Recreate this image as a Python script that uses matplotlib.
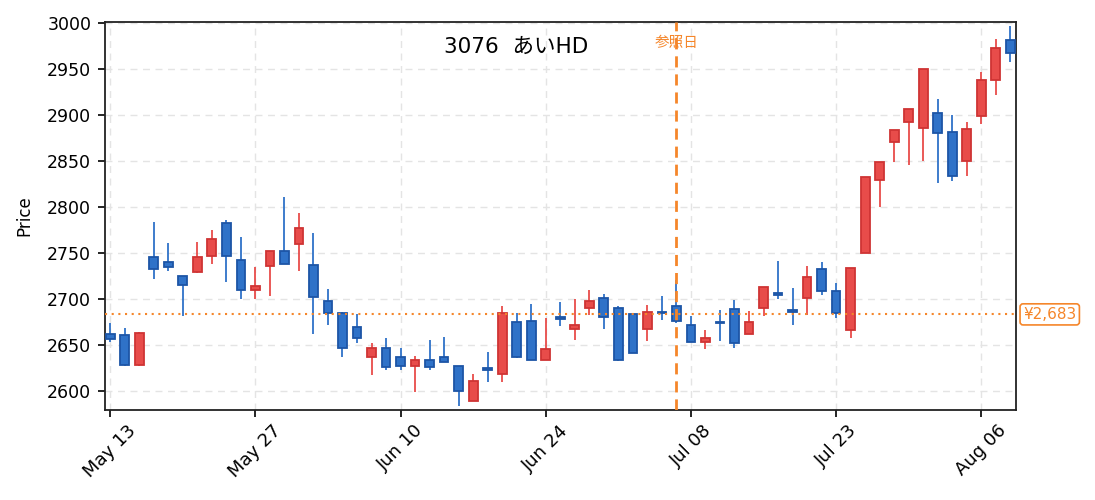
import matplotlib
matplotlib.use("Agg")
import matplotlib.pyplot as plt
from matplotlib.patches import Rectangle

plt.rcParams['font.family'] = ['DejaVu Sans', 'Noto Sans CJK JP']

# daily prices, 2024-05-13 .. 2024-08-08 (trading days)
opens = [2662, 2661, 2628, 2745, 2740, 2725, 2729, 2747, 2782, 2742,
         2710, 2736, 2752, 2760, 2737, 2698, 2685, 2669, 2637, 2646,
         2637, 2627, 2633, 2637, 2627, 2589, 2625, 2618, 2675, 2676,
         2633, 2680, 2667, 2690, 2701, 2690, 2683, 2667, 2686, 2692,
         2671, 2653, 2675, 2689, 2662, 2690, 2706, 2688, 2701, 2732,
         2708, 2666, 2750, 2829, 2870, 2892, 2886, 2902, 2881, 2850,
         2899, 2938, 2981]
highs = [2674, 2668, 2664, 2783, 2761, 2725, 2762, 2775, 2786, 2767,
         2734, 2752, 2811, 2793, 2772, 2711, 2686, 2683, 2652, 2657,
         2646, 2638, 2655, 2658, 2627, 2618, 2642, 2692, 2684, 2694,
         2679, 2696, 2700, 2710, 2705, 2692, 2685, 2693, 2703, 2720,
         2681, 2666, 2688, 2699, 2687, 2713, 2741, 2712, 2736, 2740,
         2717, 2733, 2832, 2849, 2883, 2906, 2950, 2917, 2900, 2892,
         2947, 2983, 2997]
lows = [2653, 2627, 2627, 2722, 2730, 2681, 2728, 2738, 2718, 2700,
        2700, 2703, 2738, 2730, 2662, 2671, 2637, 2652, 2617, 2622,
        2623, 2599, 2623, 2631, 2583, 2589, 2609, 2609, 2636, 2633,
        2633, 2670, 2655, 2682, 2667, 2632, 2641, 2654, 2677, 2674,
        2653, 2645, 2654, 2646, 2662, 2681, 2700, 2671, 2682, 2704,
        2679, 2657, 2750, 2800, 2849, 2846, 2850, 2826, 2828, 2834,
        2890, 2922, 2958]
closes = [2656, 2628, 2663, 2732, 2735, 2715, 2745, 2765, 2746, 2710,
          2714, 2752, 2738, 2777, 2702, 2685, 2646, 2657, 2646, 2626,
          2627, 2633, 2626, 2631, 2600, 2610, 2622, 2684, 2637, 2633,
          2645, 2678, 2671, 2698, 2680, 2633, 2641, 2686, 2684, 2676,
          2653, 2657, 2674, 2652, 2675, 2713, 2704, 2686, 2724, 2708,
          2685, 2733, 2832, 2849, 2883, 2906, 2950, 2880, 2833, 2885,
          2938, 2973, 2967]
tick_labels = ["May 13", "May 27", "Jun 10", "Jun 24", "Jul 08", "Jul 23", "Aug 06"]
ref_index = 39
ref_price = 2683
title = "3076  あいHD"

UP_FILL, UP_EDGE = "#e84c4a", "#cf3434"
DN_FILL, DN_EDGE = "#2f72c8", "#1d55a6"
ORANGE = "#f5862a"

fig = plt.figure(figsize=(10.95, 5), dpi=100)
ax = fig.add_axes([0.096, 0.18, 0.832, 0.776])

w = 0.6
for i in range(len(opens)):
    o, h, l, c = opens[i], highs[i], lows[i], closes[i]
    up = c >= o
    fill = UP_FILL if up else DN_FILL
    edge = UP_EDGE if up else DN_EDGE
    ax.vlines(i, l, h, color=fill, linewidth=1.3, zorder=2)
    ax.add_patch(Rectangle((i - w / 2, min(o, c)), w, max(abs(c - o), 0.8),
                           facecolor=fill, edgecolor=edge, linewidth=1.3, zorder=3))

ax.axvline(ref_index, color=ORANGE, linestyle=(0, (4, 2.5)), linewidth=2, zorder=4)
ax.axhline(ref_price, color=ORANGE, linestyle=(0, (1, 2.2)), linewidth=1.5, zorder=4)
ax.text(ref_index, 2979, "参照日", color=ORANGE, fontsize=10.5, ha="center", va="center")
ax.annotate("¥{:,}".format(ref_price), xy=(1.0, ref_price), xycoords=("axes fraction", "data"),
            xytext=(5, 0), textcoords="offset points", ha="left", va="center",
            color=ORANGE, fontsize=11,
            bbox=dict(boxstyle="round,pad=0.2", facecolor="white", edgecolor=ORANGE, linewidth=1.2))

ax.text(0.451, 0.936, title, transform=ax.transAxes, ha="center", va="center", fontsize=15.5)

ax.set_xlim(-0.35, 62.4)
ax.set_ylim(2579, 3001)
ax.set_xticks(range(0, len(opens), 10))
ax.set_xticklabels(tick_labels, rotation=45, ha="center", fontsize=13)
ax.set_yticks(range(2600, 3001, 50))
ax.tick_params(axis="y", labelsize=12.5, pad=5)
ax.tick_params(direction="out", length=5, width=1.2)
ax.set_ylabel("Price", fontsize=12, labelpad=10)
ax.grid(True, color="#e4e4e4", linestyle=(0, (5, 4)), linewidth=1)
ax.set_axisbelow(True)
for s in ax.spines.values():
    s.set_linewidth(1.3)
    s.set_color("#222222")

fig.savefig("out.png", dpi=100)
